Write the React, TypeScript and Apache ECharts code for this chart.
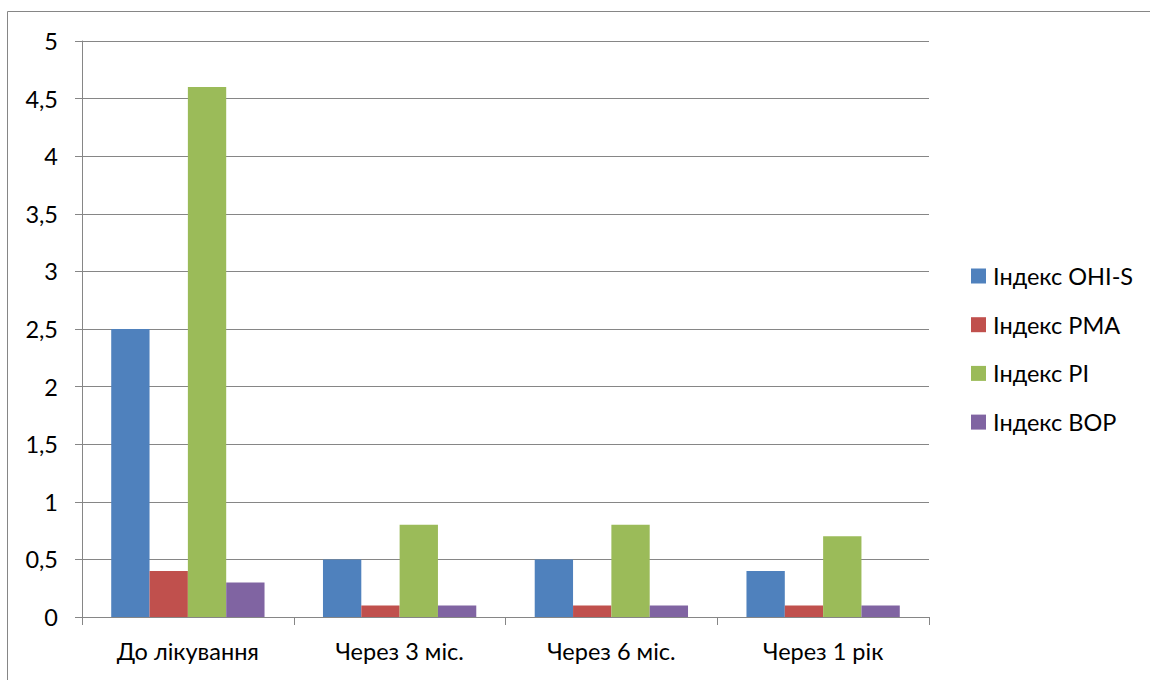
import React, { useEffect, useRef } from "react";
import * as echarts from "echarts";

const categories = ["До лікування", "Через 3 міс.", "Через 6 міс.", "Через 1 рік"];
const seriesNames = ["Індекс OHI-S", "Індекс PMA", "Індекс PI", "Індекс BOP"];
const ohiS = [2.5, 0.5, 0.5, 0.4];
const pma = [0.4, 0.1, 0.1, 0.1];
const pi = [4.6, 0.8, 0.8, 0.7];
const bop = [0.3, 0.1, 0.1, 0.1];
const colors = ["#4F81BD", "#C0504D", "#9BBB59", "#8064A2"];

const FONT = "Lato";
const FONT_SIZE = 23.5;
const GRID_COLOR = "#868686";

export default function App() {
  const ref = useRef<HTMLDivElement>(null);

  useEffect(() => {
    if (!ref.current) return;
    const chart = echarts.init(ref.current, undefined, { renderer: "svg" });
    const values = [ohiS, pma, pi, bop];
    chart.setOption({
      animation: false,
      backgroundColor: "#ffffff",
      textStyle: { fontFamily: FONT },
      graphic: [
        {
          type: "rect",
          shape: { x: 7.5, y: 11.5, width: 1160, height: 690 },
          style: { fill: "none", stroke: GRID_COLOR, lineWidth: 1 },
          silent: true,
        },
      ],
      grid: { left: 82, top: 41, width: 847, height: 576, containLabel: false },
      legend: {
        orient: "vertical",
        left: 971,
        top: 264,
        padding: 0,
        itemWidth: 15,
        itemHeight: 15,
        itemGap: 24.7,
        icon: "rect",
        data: seriesNames,
        textStyle: {
          fontFamily: FONT,
          fontSize: FONT_SIZE,
          color: "#000",
          lineHeight: 24,
          padding: [0, 0, 0, 2],
        },
      },
      xAxis: {
        type: "category",
        data: categories,
        axisLine: { show: true, lineStyle: { color: GRID_COLOR, width: 1 } },
        axisTick: { show: true, length: 8, lineStyle: { color: GRID_COLOR } },
        axisLabel: { color: "#000", fontSize: FONT_SIZE, fontFamily: FONT, margin: 22 },
      },
      yAxis: {
        type: "value",
        min: 0,
        max: 5,
        interval: 0.5,
        axisLine: { show: true, lineStyle: { color: GRID_COLOR, width: 1 } },
        axisTick: { show: true, length: 7, lineStyle: { color: GRID_COLOR } },
        splitLine: { show: true, lineStyle: { color: GRID_COLOR, width: 1 } },
        axisLabel: {
          color: "#000",
          fontSize: FONT_SIZE,
          fontFamily: FONT,
          margin: 24,
          formatter: (v: number) => String(v).replace(".", ","),
        },
      },
      series: seriesNames.map((name, i) => ({
        name,
        type: "bar",
        data: values[i],
        barGap: "0%",
        barCategoryGap: "27.6%",
        itemStyle: { color: colors[i] },
      })),
    });
    return () => chart.dispose();
  }, []);

  return (
    <div
      ref={ref}
      style={{ position: "absolute", left: 0, top: 0, width: 1150, height: 680 }}
    />
  );
}
